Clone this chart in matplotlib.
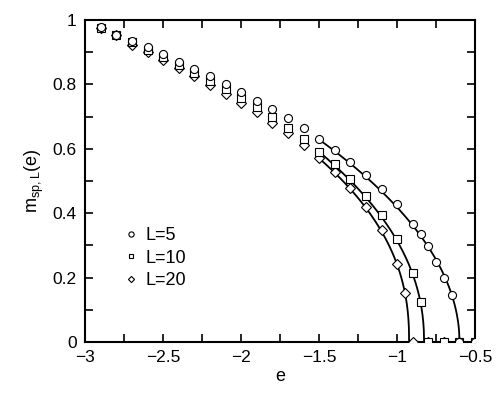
import numpy as np
import matplotlib
matplotlib.use("Agg")
import matplotlib.pyplot as plt
from matplotlib.ticker import MultipleLocator

plt.rcParams['font.family'] = ['Liberation Sans', 'DejaVu Sans']
plt.rcParams['mathtext.fontset'] = 'custom'
plt.rcParams['mathtext.rm'] = 'Liberation Sans'
plt.rcParams['mathtext.it'] = 'Liberation Sans'

# energy grid of the simulation points
e_L5 = [-2.9, -2.8, -2.7, -2.6, -2.5, -2.4, -2.3, -2.2, -2.1, -2.0,
        -1.9, -1.8, -1.7, -1.6, -1.5, -1.4, -1.3, -1.2, -1.1, -1.0,
        -0.9, -0.85, -0.8, -0.75, -0.7, -0.65, -0.6, -0.5]
m_L5 = [0.977, 0.955, 0.936, 0.915, 0.894, 0.870, 0.847, 0.826, 0.800, 0.776,
        0.749, 0.723, 0.695, 0.666, 0.629, 0.596, 0.559, 0.518, 0.475, 0.430,
        0.367, 0.335, 0.299, 0.248, 0.200, 0.147, 0.0, 0.0]

e_L10 = [-2.9, -2.8, -2.7, -2.6, -2.5, -2.4, -2.3, -2.2, -2.1, -2.0,
         -1.9, -1.8, -1.7, -1.6, -1.5, -1.4, -1.3, -1.2, -1.1, -1.0,
         -0.9, -0.85, -0.8, -0.7, -0.6, -0.5]
m_L10 = [0.976, 0.953, 0.931, 0.908, 0.886, 0.860, 0.836, 0.811, 0.785, 0.759,
         0.731, 0.698, 0.664, 0.630, 0.591, 0.552, 0.506, 0.453, 0.394, 0.319,
         0.213, 0.123, 0.0, 0.0, 0.0, 0.0]

e_L20 = [-2.9, -2.8, -2.7, -2.6, -2.5, -2.4, -2.3, -2.2, -2.1, -2.0,
         -1.9, -1.8, -1.7, -1.6, -1.5, -1.4, -1.3, -1.2, -1.1, -1.0,
         -0.95, -0.9, -0.8, -0.7, -0.6, -0.5]
m_L20 = [0.975, 0.952, 0.924, 0.900, 0.876, 0.850, 0.825, 0.797, 0.770, 0.741,
         0.713, 0.681, 0.648, 0.612, 0.570, 0.529, 0.479, 0.418, 0.348, 0.241,
         0.153, 0.0, 0.0, 0.0, 0.0, 0.0]

# power-law fits m = A * (e_c - e)^beta, drawn from e = -1.5 up to e_c
fit_L5 = dict(A=0.663, ec=-0.600, beta=0.503)
fit_L10 = dict(A=0.710, ec=-0.827, beta=0.465)
fit_L20 = dict(A=0.722, ec=-0.923, beta=0.429)
fit_start = -1.5

fig = plt.figure(figsize=(4.98, 3.93), dpi=100)
ax = fig.add_axes([0.171, 0.130, 0.783, 0.819])

for fit in (fit_L5, fit_L10, fit_L20):
    ee = np.linspace(fit_start, fit['ec'], 400)
    mm = fit['A'] * np.clip(fit['ec'] - ee, 0, None) ** fit['beta']
    ax.plot(ee, mm, color='black', lw=1.3, zorder=2)

mk = dict(ls='none', mfc='white', mec='black', mew=0.8, zorder=3)
ax.plot(e_L20, m_L20, marker='D', ms=4.8, label='L=20', **mk)
ax.plot(e_L10, m_L10, marker='s', ms=5.2, label='L=10', **mk)
ax.plot(e_L5, m_L5, marker='o', ms=5.8, label='L=5', **mk)

ax.set_xlim(-3, -0.5)
ax.set_ylim(0, 1)
ax.xaxis.set_minor_locator(MultipleLocator(0.25))
ax.yaxis.set_minor_locator(MultipleLocator(0.1))
ax.tick_params(which='both', direction='in', top=True, right=True, width=1.2)
ax.tick_params(which='major', length=6, labelsize=12.5, pad=6)
ax.tick_params(which='minor', length=6)
ax.set_xticks([-3, -2.5, -2, -1.5, -1, -0.5])
ax.set_xticklabels(['\u22123', '\u22122.5', '\u22122', '\u22121.5', '\u22121', '\u22120.5'])
ax.set_yticks([0, 0.2, 0.4, 0.6, 0.8, 1.0])
ax.set_yticklabels(['0', '0.2', '0.4', '0.6', '0.8', '1'])
for s in ax.spines.values():
    s.set_linewidth(1.5)

ax.set_xlabel('e', fontsize=13, labelpad=2)
ax.set_ylabel(r'm$_{\mathrm{sp,L}}$(e)', fontsize=13, labelpad=5)

h, l = ax.get_legend_handles_labels()
ax.legend(h[::-1], l[::-1], loc='center left', bbox_to_anchor=(0.075, 0.26),
          frameon=False, fontsize=13, markerscale=0.65, handlelength=0.8,
          handletextpad=0.4, labelspacing=0.3, borderpad=0)

fig.savefig('out.png', dpi=100)
